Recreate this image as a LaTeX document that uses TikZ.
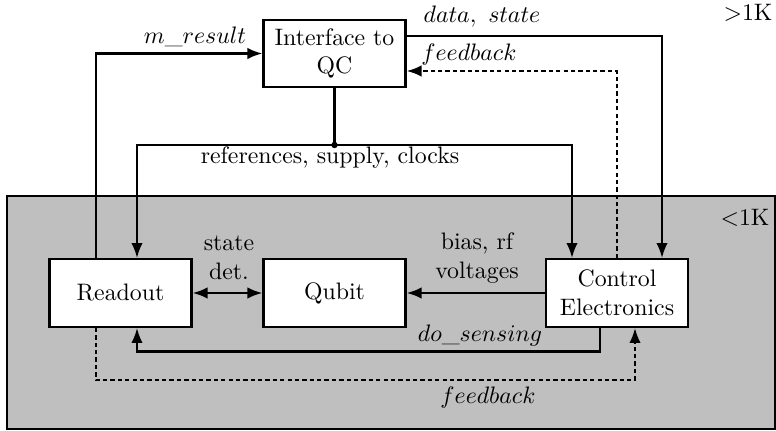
\documentclass[tikz,border=0pt]{standalone}
\usetikzlibrary{arrows.meta,calc}
\definecolor{coldzone}{RGB}{191,191,191}
\begin{document}
\begin{tikzpicture}[x=0.42pt,y=-0.42pt,line width=0.95pt,
  >={Latex[length=6.3pt,width=4.8pt]},
  block/.style={draw,fill=white,align=center,inner sep=0pt,
    minimum width=59.6pt,minimum height=28.4pt},
  fb/.style={dash pattern=on 1.8pt off 1.3pt},
  lbl/.style={inner sep=1pt,align=center}]
\useasboundingbox (0,0) rectangle (776,431);

% cryogenic stage (<1K)
\draw[fill=coldzone] (7,196) rectangle (775,429);
\node[lbl] at (748,13) {$>$1K};
\node[lbl] at (745,218) {$<$1K};

% blocks
\node[block] (ifc) at (334.5,53.5) {Interface to\\QC};
\node[block] (rd) at (120.5,293) {Readout};
\node[block] (qb) at (334.5,293) {Qubit};
\node[block] (ce) at (617,293) {Control\\Electronics};

% distribution of references, supply and clocks
\coordinate (j) at (334.5,145);
\draw (ifc.south) -- (j);
\fill (j) circle (3.2);
\draw[->] (j) -| ($(rd.north)+(16.5,0)$);
\draw[->] (j) -| ($(ce.north)+(-45,0)$);
\node[lbl] at (330,158) {references, supply, clocks};

% measurement result and control data
\draw[->] ($(rd.north)+(-24.5,0)$) |- (ifc.west);
\node[lbl] at (195,37) {$m\_result$};
\draw[->] ($(ifc.east)+(0,-17.5)$) -| ($(ce.north)+(45,0)$);
\node[lbl] at (482,17) {$data,\ state$};
\draw[->,fb] (ce.north) |- ($(ifc.east)+(0,17.5)$);
\node[lbl] at (469,55) {$feedback$};

% qubit interfaces
\draw[<->] (rd) -- (qb);
\node[lbl] at (229,258) {state\\det.};
\draw[->] (ce) -- (qb);
\node[lbl] at (477,258) {bias, rf\\voltages};

% local loops
\draw[->] ($(ce.south)+(-17,0)$) -- ++(0,23.5) -| ($(rd.south)+(16.5,0)$);
\node[lbl] at (480,336) {$do\_sensing$};
\draw[->,fb] ($(rd.south)+(-24.5,0)$) -- ++(0,52) -| ($(ce.south)+(18,0)$);
\node[lbl] at (488,398) {$feedback$};
\end{tikzpicture}
\end{document}
